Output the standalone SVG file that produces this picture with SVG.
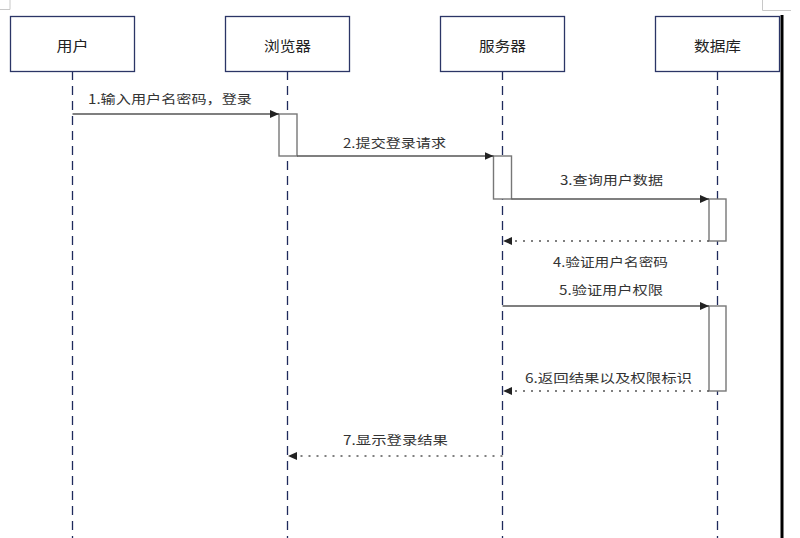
<svg xmlns="http://www.w3.org/2000/svg" width="800" height="538" viewBox="0 0 800 538">
<defs>
<style>
.box{fill:#fff;stroke:#2b3566;stroke-width:1.3}
.lbl{font-family:"Noto Sans CJK SC","Microsoft YaHei",sans-serif;font-size:14px;fill:#222;text-anchor:middle}
.msg{font-family:"Noto Sans CJK SC","Microsoft YaHei",sans-serif;font-size:12.5px;fill:#333}
.life{stroke:#1f2a5c;stroke-width:1.3;stroke-dasharray:9 6;fill:none}
.act{fill:#fff;stroke:#777;stroke-width:1.4}
.sync{stroke:#555;stroke-width:1.3;fill:none;marker-end:url(#ah)}
.ret{stroke:#555;stroke-width:1.3;fill:none;stroke-dasharray:2 6;marker-end:url(#ah)}
.corner{stroke:#c8c8c8;stroke-width:1;fill:none}
</style>
<marker id="ah" markerUnits="userSpaceOnUse" markerWidth="9" markerHeight="8" refX="9" refY="4" orient="auto">
<path d="M0,0 L9,4 L0,8 z" fill="#222"/>
</marker>
</defs>
<rect width="800" height="538" fill="#fff"/>
<path class="corner" d="M10,0 V9.5 H0 M762.5,0 V10.5 H791"/>
<rect x="780.5" y="15" width="3" height="523" fill="#000"/>

<g id="lifelines">
<line class="life" x1="72.5" y1="71" x2="72.5" y2="538"/>
<line class="life" x1="287.5" y1="71" x2="287.5" y2="538"/>
<line class="life" x1="502.5" y1="71" x2="502.5" y2="538"/>
<line class="life" x1="717.5" y1="71" x2="717.5" y2="538"/>
</g>

<g id="user"><rect class="box" x="10.5" y="16.5" width="124" height="55"/><text class="lbl" x="72.5" y="51" textLength="32" lengthAdjust="spacingAndGlyphs">用户</text></g>
<g id="browser"><rect class="box" x="225.5" y="16.5" width="124" height="55"/><text class="lbl" x="287.5" y="51" textLength="47" lengthAdjust="spacingAndGlyphs">浏览器</text></g>
<g id="server"><rect class="box" x="440.5" y="16.5" width="124" height="55"/><text class="lbl" x="502.5" y="51" textLength="47" lengthAdjust="spacingAndGlyphs">服务器</text></g>
<g id="database"><rect class="box" x="655.5" y="16.5" width="124" height="55"/><text class="lbl" x="717.5" y="51" textLength="47" lengthAdjust="spacingAndGlyphs">数据库</text></g>

<g id="activations">
<rect class="act" x="279" y="114" width="18" height="42"/>
<rect class="act" x="493.5" y="156" width="18" height="43"/>
<rect class="act" x="709" y="199" width="17" height="42"/>
<rect class="act" x="709" y="306" width="17" height="85"/>
</g>

<g id="connectors">
<line class="sync" x1="72.5" y1="114" x2="279" y2="114"/>
<line class="sync" x1="297" y1="156" x2="493.5" y2="156"/>
<line class="sync" x1="511.5" y1="199" x2="709" y2="199"/>
<line class="ret" x1="709" y1="241" x2="503" y2="241"/>
<line class="sync" x1="502.5" y1="306" x2="709" y2="306"/>
<line class="ret" x1="709" y1="391" x2="503" y2="391"/>
<line class="ret" x1="502.5" y1="456" x2="288" y2="456"/>
</g>

<g id="labels">
<text class="msg" x="88" y="104" textLength="164" lengthAdjust="spacingAndGlyphs">1.输入用户名密码，登录</text>
<text class="msg" x="343" y="148" textLength="103" lengthAdjust="spacingAndGlyphs">2.提交登录请求</text>
<text class="msg" x="560" y="185" textLength="103" lengthAdjust="spacingAndGlyphs">3.查询用户数据</text>
<text class="msg" x="553" y="267" textLength="115" lengthAdjust="spacingAndGlyphs">4.验证用户名密码</text>
<text class="msg" x="559" y="295" textLength="104" lengthAdjust="spacingAndGlyphs">5.验证用户权限</text>
<text class="msg" x="525" y="383" textLength="167" lengthAdjust="spacingAndGlyphs">6.返回结果以及权限标识</text>
<text class="msg" x="343" y="445" textLength="105" lengthAdjust="spacingAndGlyphs">7.显示登录结果</text>
</g>
</svg>
